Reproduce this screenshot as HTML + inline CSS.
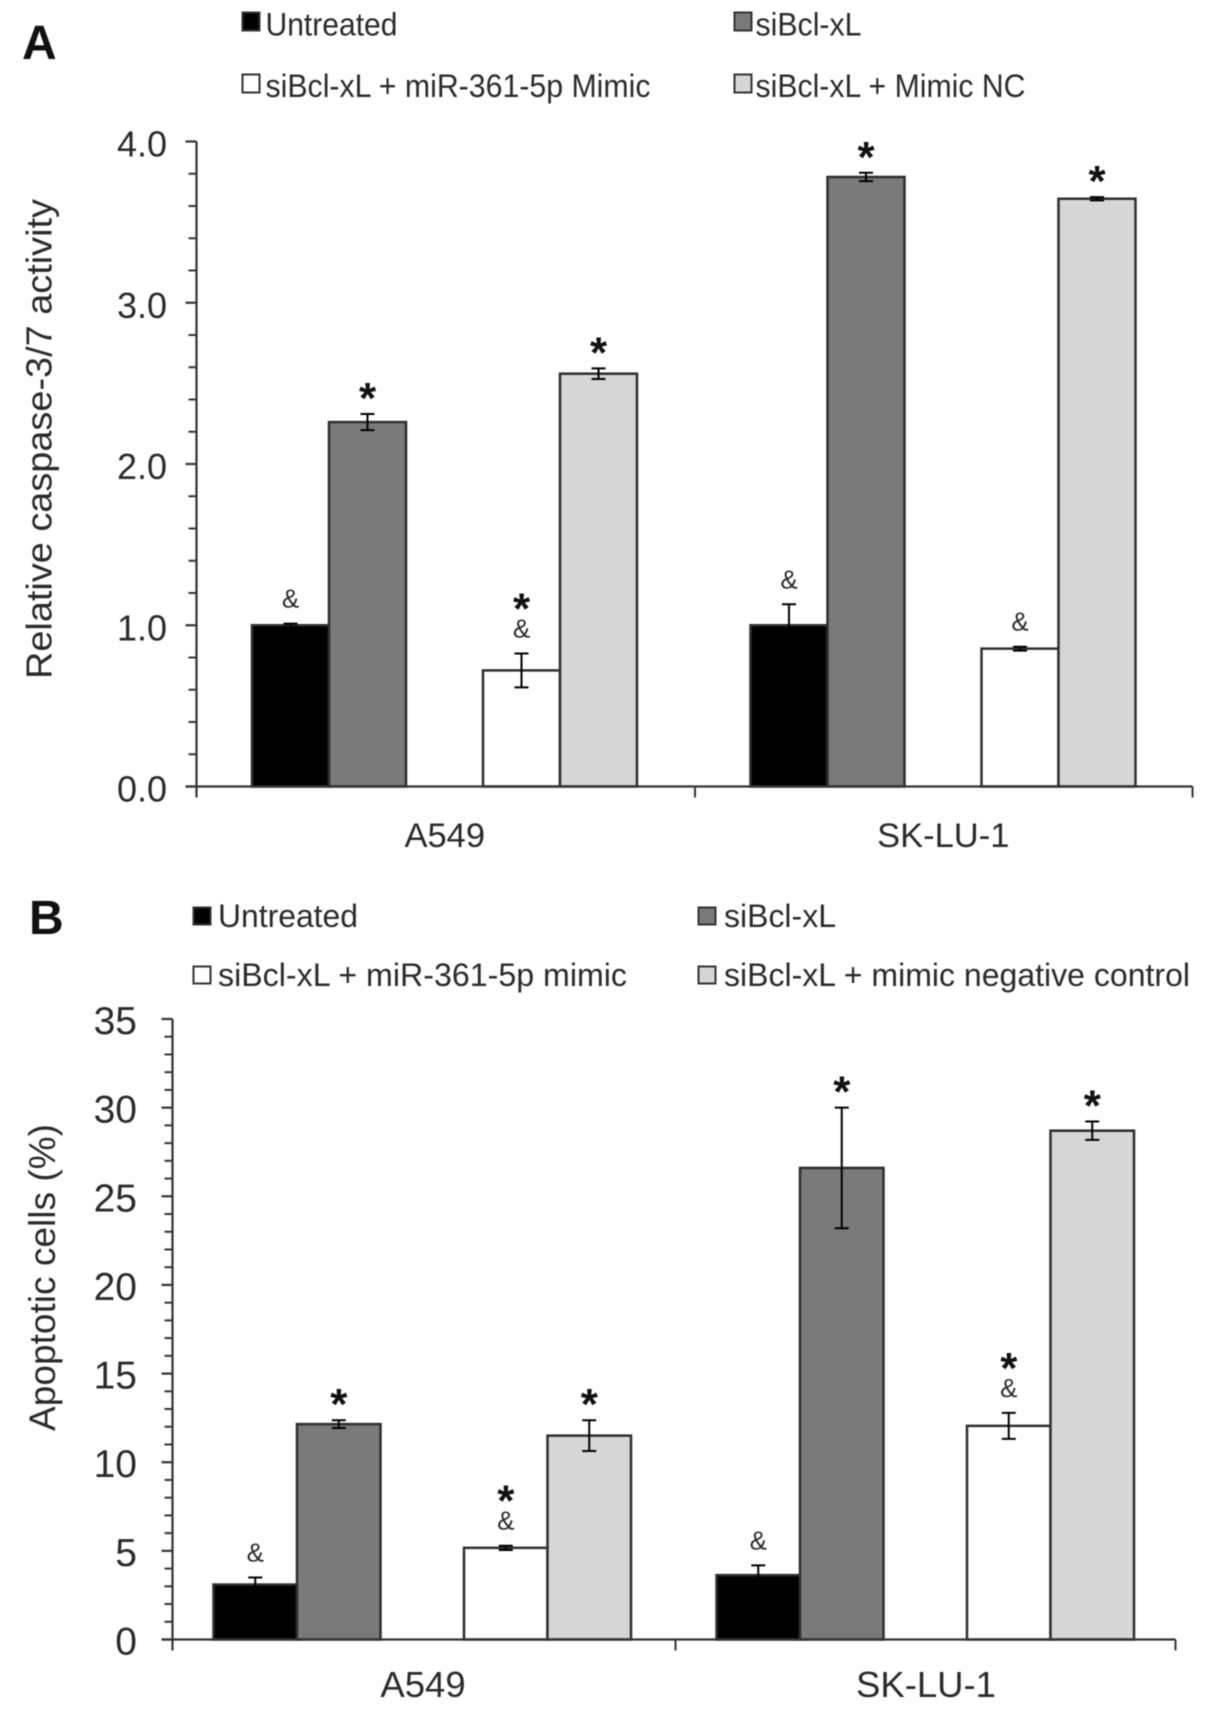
<!DOCTYPE html>
<html lang="en">
<head>
<meta charset="utf-8">
<title>Relative caspase-3/7 activity and apoptotic cells</title>
<style>
html,body{margin:0;padding:0;background:#fff;width:1205px;height:1711px;overflow:hidden}
svg{display:block;filter:blur(0.65px)}
text{font-family:"Liberation Sans",sans-serif;fill:#2b2b2b}
</style>
</head>
<body>
<svg id="figure" xmlns="http://www.w3.org/2000/svg" width="1205" height="1711" viewBox="0 0 1205 1711">
  <rect x="0" y="0" width="1205" height="1711" fill="#fff"/>

  <text x="22" y="59" font-size="48" font-weight="bold" style="fill:#111">A</text>
  <g>
    <g>
      <rect x="242.5" y="12.5" width="17" height="18" fill="#000" stroke="#333" stroke-width="2"/>
      <text x="265.5" y="35.5" font-size="32.5" textLength="132" lengthAdjust="spacingAndGlyphs">Untreated</text>
    </g>
    <g>
      <rect x="734.5" y="12.5" width="17" height="18" fill="#7a7a7a" stroke="#333" stroke-width="2"/>
      <text x="755.5" y="35.5" font-size="32.5" textLength="106" lengthAdjust="spacingAndGlyphs">siBcl-xL</text>
    </g>
    <g>
      <rect x="242.5" y="74.5" width="17" height="18" fill="#fff" stroke="#333" stroke-width="2"/>
      <text x="265.5" y="97" font-size="32.5" textLength="385" lengthAdjust="spacingAndGlyphs">siBcl-xL + miR-361-5p Mimic</text>
    </g>
    <g>
      <rect x="734.5" y="74.5" width="17" height="18" fill="#d6d6d6" stroke="#333" stroke-width="2"/>
      <text x="755.5" y="97" font-size="32.5" textLength="270" lengthAdjust="spacingAndGlyphs">siBcl-xL + Mimic NC</text>
    </g>
  </g>
  <text transform="translate(51.5,679) rotate(-90)" font-size="36" textLength="480" lengthAdjust="spacingAndGlyphs">Relative caspase-3/7 activity</text>
  <g id="panel-a"></g>

  <text x="29" y="934" font-size="48" font-weight="bold" style="fill:#111">B</text>
  <g>
    <g>
      <rect x="193.5" y="907.5" width="17" height="17" fill="#000" stroke="#333" stroke-width="2"/>
      <text x="218" y="927" font-size="32.5" textLength="140" lengthAdjust="spacingAndGlyphs">Untreated</text>
    </g>
    <g>
      <rect x="698.5" y="907.5" width="17" height="17" fill="#7a7a7a" stroke="#333" stroke-width="2"/>
      <text x="724" y="927" font-size="32.5" textLength="112" lengthAdjust="spacingAndGlyphs">siBcl-xL</text>
    </g>
    <g>
      <rect x="193.5" y="966.5" width="17" height="17" fill="#fff" stroke="#333" stroke-width="2"/>
      <text x="218" y="986" font-size="32.5" textLength="409" lengthAdjust="spacingAndGlyphs">siBcl-xL + miR-361-5p mimic</text>
    </g>
    <g>
      <rect x="698.5" y="966.5" width="17" height="17" fill="#d6d6d6" stroke="#333" stroke-width="2"/>
      <text x="724" y="986" font-size="32.5" textLength="466" lengthAdjust="spacingAndGlyphs">siBcl-xL + mimic negative control</text>
    </g>
  </g>
  <text transform="translate(55,1431) rotate(-90)" font-size="37" textLength="307" lengthAdjust="spacingAndGlyphs">Apoptotic cells (%)</text>
  <g id="panel-b"></g>
</svg>

<script>
const categories = ["A549", "SK-LU-1"];
const seriesNames = ["untreated", "sibcl-xl", "mimic", "mimic-nc"];

const aTickLabels = ["0.0", "1.0", "2.0", "3.0", "4.0"];
const aTickValues = [0, 1, 2, 3, 4];
const aUntreated = [1.00, 1.00];
const aUntreatedErr = [0.01, 0.13];
const aUntreatedMarks = ["&", "&"];
const aSiBcl = [2.26, 3.78];
const aSiBclErr = [0.05, 0.026];
const aSiBclMarks = ["*", "*"];
const aMimic = [0.72, 0.855];
const aMimicErr = [0.105, 0.012];
const aMimicMarks = ["*&", "&"];
const aMimicNC = [2.56, 3.645];
const aMimicNCErr = [0.033, 0.01];
const aMimicNCMarks = ["*", "*"];

const bTickLabels = ["0", "5", "10", "15", "20", "25", "30", "35"];
const bTickValues = [0, 5, 10, 15, 20, 25, 30, 35];
const bUntreated = [3.1, 3.63];
const bUntreatedErr = [0.4, 0.55];
const bUntreatedMarks = ["&", "&"];
const bSiBcl = [12.15, 26.6];
const bSiBclErr = [0.22, 3.4];
const bSiBclMarks = ["*", "*"];
const bMimic = [5.17, 12.05];
const bMimicErr = [0.12, 0.73];
const bMimicMarks = ["*&", "*&"];
const bMimicNC = [11.5, 28.7];
const bMimicNCErr = [0.87, 0.52];
const bMimicNCMarks = ["*", "*"];

const seriesFill = ["#000000", "#7a7a7a", "#ffffff", "#d6d6d6"];
const NS = "http://www.w3.org/2000/svg";

function make(parent, tag, attrs, content) {
  const el = document.createElementNS(NS, tag);
  for (const k in attrs) el.setAttribute(k, attrs[k]);
  if (content !== undefined) el.textContent = content;
  parent.appendChild(el);
  return el;
}

function drawChart(rootId, cfg, tickLabels, tickValues, values, errors, marks) {
  const root = document.getElementById(rootId);
  const yScale = v => cfg.y0 - (v / cfg.yMax) * (cfg.y0 - cfg.yTop);
  const catWidth = cfg.catWidth;
  const barLeft = (c, s) => cfg.xLeft + catWidth * c + cfg.pad + (s < 2 ? s : s + 1) * cfg.slot;

  // bars
  values.forEach((series, s) => {
    series.forEach((v, c) => {
      const bar = make(root, "rect", {
        x: barLeft(c, s), y: yScale(v), width: cfg.slot, height: cfg.y0 - yScale(v),
        fill: seriesFill[s], stroke: "#2e2e2e", "stroke-width": 2.5
      });
      
      
    });
  });

  // axes
  const yAxis = make(root, "line", { x1: cfg.xLeft, x2: cfg.xLeft, y1: cfg.yTop, y2: cfg.y0 + 11, stroke: "#333", "stroke-width": 2.2 });
  
  
  const xAxis = make(root, "line", { x1: cfg.xLeft - 11, x2: cfg.xRight, y1: cfg.y0, y2: cfg.y0, stroke: "#333", "stroke-width": 2.2 });
  
  

  // y ticks and labels
  tickValues.forEach((v, i) => {
    const major = make(root, "line", { x1: cfg.xLeft - 11, x2: cfg.xLeft, y1: yScale(v), y2: yScale(v), stroke: "#333", "stroke-width": 2.2 });
    
    
    const label = make(root, "text", { x: cfg.labelRight, y: yScale(v) + 15, "font-size": cfg.tickSize, "text-anchor": "end" }, tickLabels[i]);
    
    
    if (i < tickValues.length - 1) {
      const step = (tickValues[i + 1] - v) / 5;
      for (let m = 1; m < 5; m++) {
        const minor = make(root, "line", { x1: cfg.xLeft - 8, x2: cfg.xLeft, y1: yScale(v + m * step), y2: yScale(v + m * step), stroke: "#333", "stroke-width": 2 });
        
        
      }
    }
  });

  // x ticks and category labels
  const xTickMid = make(root, "line", { x1: cfg.xLeft + catWidth, x2: cfg.xLeft + catWidth, y1: cfg.y0, y2: cfg.y0 + 11, stroke: "#333", "stroke-width": 2 });
  
  
  const xTickEnd = make(root, "line", { x1: cfg.xRight, x2: cfg.xRight, y1: cfg.y0, y2: cfg.y0 + 11, stroke: "#333", "stroke-width": 2 });
  
  
  categories.forEach((name, c) => {
    const xLabel = make(root, "text", { x: cfg.xLeft + catWidth * (c + 0.5) - 1, y: cfg.xLabelY, "font-size": cfg.xLabelSize, "text-anchor": "middle" }, name);
    
    
  });

  // error bars and significance marks
  values.forEach((series, s) => {
    series.forEach((v, c) => {
      const cx = barLeft(c, s) + cfg.slot / 2;
      const hi = yScale(v + errors[s][c]);
      const lo = yScale(v - errors[s][c]);
      const err = make(root, "path", {
        d: "M" + (cx - 7) + " " + hi + "H" + (cx + 7) + "M" + cx + " " + hi + "V" + lo + "M" + (cx - 7) + " " + lo + "H" + (cx + 7),
        fill: "none", stroke: "#000", "stroke-width": 2
      });
      
      

      const mark = marks[s][c];
      if (mark === "&" || mark === "*&") {
        const amp = make(root, "text", { x: cx, y: hi - 25 + 9, "font-size": 26, "text-anchor": "middle" }, "&");
        
        
      }
      if (mark === "*" || mark === "*&") {
        const lift = mark === "*&" ? 56 : 27;
        const star = make(root, "text", { x: cx, y: hi - lift + 26, "font-size": 44, "font-weight": "bold", "text-anchor": "middle", style: "fill:#111" }, "*");
        
        
      }
    });
  });
}

drawChart("panel-a",
  { xLeft: 196.5, xRight: 1192.5, catWidth: 498.5, y0: 786.5, yTop: 141.5, yMax: 4, pad: 55.5, slot: 77, labelRight: 167, xLabelY: 847, xLabelSize: 34.5, tickSize: 36 },
  aTickLabels, aTickValues,
  [aUntreated, aSiBcl, aMimic, aMimicNC],
  [aUntreatedErr, aSiBclErr, aMimicErr, aMimicNCErr],
  [aUntreatedMarks, aSiBclMarks, aMimicMarks, aMimicNCMarks]);

drawChart("panel-b",
  { xLeft: 172.5, xRight: 1175.5, catWidth: 503, y0: 1639.5, yTop: 1019, yMax: 35, pad: 41, slot: 83.5, labelRight: 137, xLabelY: 1697, xLabelSize: 36.5, tickSize: 39 },
  bTickLabels, bTickValues,
  [bUntreated, bSiBcl, bMimic, bMimicNC],
  [bUntreatedErr, bSiBclErr, bMimicErr, bMimicNCErr],
  [bUntreatedMarks, bSiBclMarks, bMimicMarks, bMimicNCMarks]);
</script>
</body>
</html>
